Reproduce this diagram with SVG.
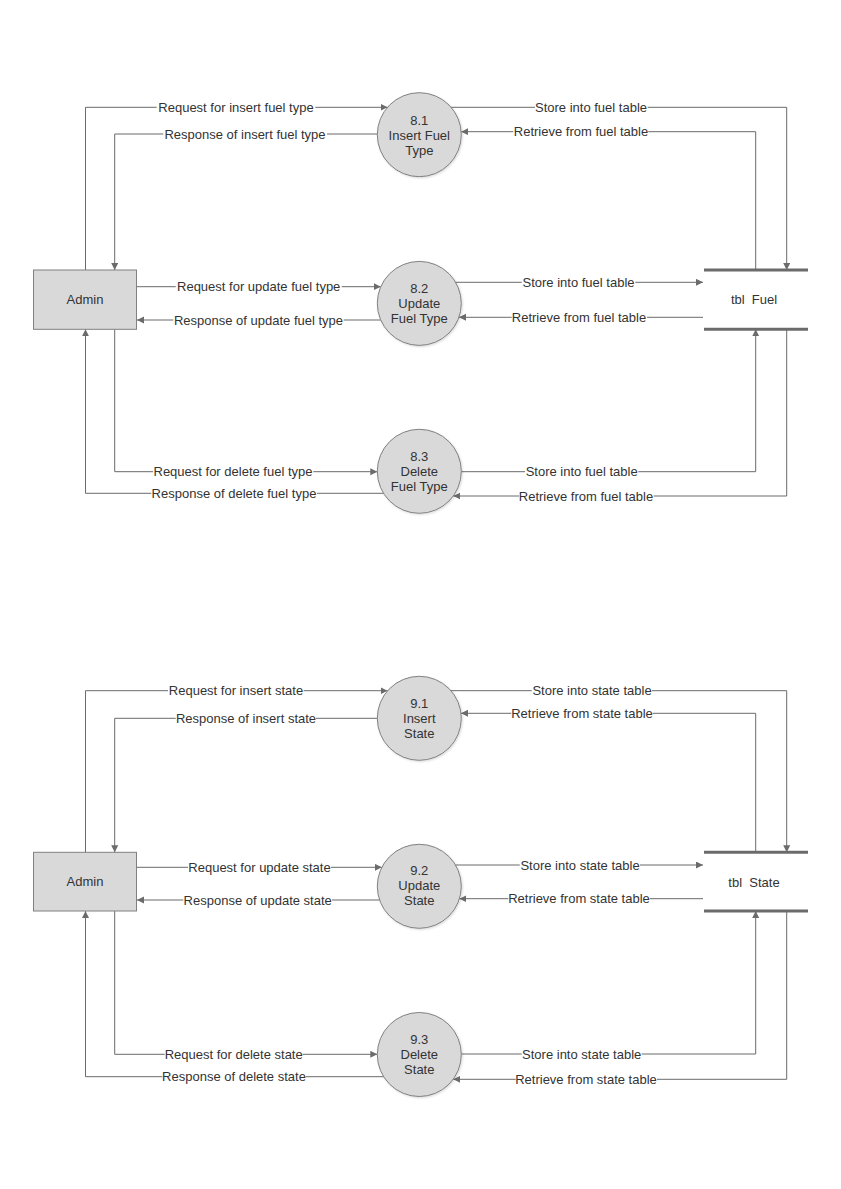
<svg xmlns="http://www.w3.org/2000/svg" width="841" height="1189" viewBox="0 0 841 1189">
  <style>
    .bg { fill: #ffffff; }
    .entity { fill: #d9d9d9; stroke: #808080; stroke-width: 1; }
    .proc { fill: #d9d9d9; stroke: #808080; stroke-width: 1; }
    .store { stroke: #6b6b6b; stroke-width: 3; fill: none; }
    .flow { fill: none; stroke: #6b6b6b; stroke-width: 1; }
    .arr { marker-end: url(#ah); }
    .lblbg { fill: #ffffff; stroke: none; }
    text { font-family: "Liberation Sans", Arial, sans-serif; font-size: 13px; fill: #333333; text-anchor: middle; dominant-baseline: central; }
    .pre { white-space: pre; }
  </style>
  <defs>
    <marker id="ah" markerWidth="8" markerHeight="8" refX="7" refY="3.5" orient="auto" markerUnits="userSpaceOnUse">
      <path d="M0,0 L7,3.5 L0,7 Z" fill="#6b6b6b"/>
    </marker>
    <filter id="sh" x="-20%" y="-20%" width="140%" height="140%">
      <feDropShadow dx="1" dy="1" stdDeviation="1" flood-color="#000" flood-opacity="0.15"/>
    </filter>
  </defs>
  <rect class="bg" x="0" y="0" width="841" height="1189"/>

  <!-- ===== Fuel type section ===== -->
  <g id="connectors-fuel">
    <path class="flow arr" d="M85.5,270 V107.3 H387.5"/>
    <path class="flow arr" d="M377.3,134 H114.7 V270"/>
    <path class="flow arr" d="M137,286.7 H380.8"/>
    <path class="flow arr" d="M380.8,320 H137"/>
    <path class="flow arr" d="M114.7,329.3 V471.7 H377.3"/>
    <path class="flow arr" d="M383.5,493.3 H85.5 V329.3"/>
    <path class="flow arr" d="M451.1,107.3 H786.7 V270"/>
    <path class="flow arr" d="M755.7,270 V131.7 H461.2"/>
    <path class="flow arr" d="M455.6,282.3 H703"/>
    <path class="flow arr" d="M703,317.3 H459"/>
    <path class="flow arr" d="M461.3,471.7 H755.7 V329.3"/>
    <path class="flow arr" d="M786.7,329.3 V496 H453.3"/>

    <!-- label backgrounds -->
    <rect class="lblbg" x="156.7" y="100.3" width="158.6" height="14"/>
    <rect class="lblbg" x="163.3" y="127" width="163.7" height="14"/>
    <rect class="lblbg" x="175.7" y="279.7" width="166" height="14"/>
    <rect class="lblbg" x="173.3" y="313" width="170.4" height="14"/>
    <rect class="lblbg" x="153" y="464.7" width="160.3" height="14"/>
    <rect class="lblbg" x="151.3" y="486.3" width="165.7" height="14"/>
    <rect class="lblbg" x="535" y="100.3" width="112.7" height="14"/>
    <rect class="lblbg" x="513.3" y="124.7" width="135" height="14"/>
    <rect class="lblbg" x="521.7" y="275.3" width="113.6" height="14"/>
    <rect class="lblbg" x="511.7" y="310.3" width="135.3" height="14"/>
    <rect class="lblbg" x="525" y="464.7" width="113.3" height="14"/>
    <rect class="lblbg" x="519" y="489" width="134.7" height="14"/>

    <text x="236" y="107.3">Request for insert fuel type</text>
    <text x="245" y="134">Response of insert fuel type</text>
    <text x="258.7" y="286.7">Request for update fuel type</text>
    <text x="258.5" y="320">Response of update fuel type</text>
    <text x="233" y="471.7">Request for delete fuel type</text>
    <text x="234" y="493.3">Response of delete fuel type</text>
    <text x="591" y="107.3">Store into fuel table</text>
    <text x="581" y="131.7">Retrieve from fuel table</text>
    <text x="578.5" y="282.3">Store into fuel table</text>
    <text x="579" y="317.3">Retrieve from fuel table</text>
    <text x="581.7" y="471.7">Store into fuel table</text>
    <text x="586" y="496">Retrieve from fuel table</text>
  </g>

  <g id="admin-fuel">
    <rect class="entity" x="33.5" y="270" width="103" height="59.3"/>
    <text x="85" y="299.6">Admin</text>
  </g>

  <g id="proc-8-1">
    <circle class="proc" cx="419.3" cy="134.7" r="42" filter="url(#sh)"/>
    <text x="419.3" y="120.2">8.1</text>
    <text x="419.3" y="135.2">Insert Fuel</text>
    <text x="419.3" y="150.2">Type</text>
  </g>
  <g id="proc-8-2">
    <circle class="proc" cx="419.3" cy="303.4" r="42" filter="url(#sh)"/>
    <text x="419.3" y="288.9">8.2</text>
    <text x="419.3" y="303.9">Update</text>
    <text x="419.3" y="318.9">Fuel Type</text>
  </g>
  <g id="proc-8-3">
    <circle class="proc" cx="419.3" cy="471.3" r="42" filter="url(#sh)"/>
    <text x="419.3" y="456.8">8.3</text>
    <text x="419.3" y="471.8">Delete</text>
    <text x="419.3" y="486.8">Fuel Type</text>
  </g>

  <g id="store-fuel">
    <line class="store" x1="704" y1="270" x2="808" y2="270"/>
    <line class="store" x1="704" y1="329.3" x2="808" y2="329.3"/>
    <text class="pre" x="754" y="299.6">tbl  Fuel</text>
  </g>

  <!-- ===== State section ===== -->
  <g id="connectors-state">
    <path class="flow arr" d="M85.5,852.3 V690.7 H387.5"/>
    <path class="flow arr" d="M377.3,718.3 H114.7 V852.3"/>
    <path class="flow arr" d="M137,867.3 H381.8"/>
    <path class="flow arr" d="M379.6,900 H137"/>
    <path class="flow arr" d="M114.7,911 V1054.3 H377.3"/>
    <path class="flow arr" d="M383.7,1076.7 H85.5 V911"/>
    <path class="flow arr" d="M451,690.7 H786.7 V852.3"/>
    <path class="flow arr" d="M755.7,852.3 V713.3 H461"/>
    <path class="flow arr" d="M455.5,865 H703"/>
    <path class="flow arr" d="M703,898.7 H459.4"/>
    <path class="flow arr" d="M461.3,1054 H755.7 V911"/>
    <path class="flow arr" d="M786.7,911 V1079.3 H453.2"/>

    <!-- label backgrounds -->
    <rect class="lblbg" x="168" y="683.7" width="135.7" height="14"/>
    <rect class="lblbg" x="175.7" y="711.3" width="140.3" height="14"/>
    <rect class="lblbg" x="188" y="860.3" width="143" height="14"/>
    <rect class="lblbg" x="183.3" y="893" width="148.7" height="14"/>
    <rect class="lblbg" x="164.7" y="1047.3" width="138" height="14"/>
    <rect class="lblbg" x="162.3" y="1069.7" width="143.7" height="14"/>
    <rect class="lblbg" x="531.7" y="683.7" width="120.3" height="14"/>
    <rect class="lblbg" x="511.3" y="706.3" width="141.4" height="14"/>
    <rect class="lblbg" x="519.7" y="858" width="120.3" height="14"/>
    <rect class="lblbg" x="508.3" y="891.7" width="141.4" height="14"/>
    <rect class="lblbg" x="521.7" y="1047" width="120" height="14"/>
    <rect class="lblbg" x="515.7" y="1072.3" width="141.3" height="14"/>

    <text x="236" y="690.7">Request for insert state</text>
    <text x="246" y="718.3">Response of insert state</text>
    <text x="259.5" y="867.3">Request for update state</text>
    <text x="257.7" y="900">Response of update state</text>
    <text x="233.7" y="1054.3">Request for delete state</text>
    <text x="234" y="1076.7">Response of delete state</text>
    <text x="592" y="690.7">Store into state table</text>
    <text x="582" y="713.3">Retrieve from state table</text>
    <text x="580" y="865">Store into state table</text>
    <text x="579" y="898.7">Retrieve from state table</text>
    <text x="581.7" y="1054">Store into state table</text>
    <text x="586" y="1079.3">Retrieve from state table</text>
  </g>

  <g id="admin-state">
    <rect class="entity" x="33.5" y="852.3" width="103" height="58.7"/>
    <text x="85" y="881.7">Admin</text>
  </g>

  <g id="proc-9-1">
    <circle class="proc" cx="419.3" cy="718.3" r="42" filter="url(#sh)"/>
    <text x="419.3" y="703.3">9.1</text>
    <text x="419.3" y="718.3">Insert</text>
    <text x="419.3" y="733.3">State</text>
  </g>
  <g id="proc-9-2">
    <circle class="proc" cx="419.3" cy="886.3" r="42" filter="url(#sh)"/>
    <text x="419.3" y="870.8">9.2</text>
    <text x="419.3" y="885.8">Update</text>
    <text x="419.3" y="900.8">State</text>
  </g>
  <g id="proc-9-3">
    <circle class="proc" cx="419.3" cy="1054.5" r="42" filter="url(#sh)"/>
    <text x="419.3" y="1039">9.3</text>
    <text x="419.3" y="1054">Delete</text>
    <text x="419.3" y="1069">State</text>
  </g>

  <g id="store-state">
    <line class="store" x1="704" y1="852.3" x2="808" y2="852.3"/>
    <line class="store" x1="704" y1="911" x2="808" y2="911"/>
    <text class="pre" x="754" y="882.3">tbl  State</text>
  </g>
</svg>
